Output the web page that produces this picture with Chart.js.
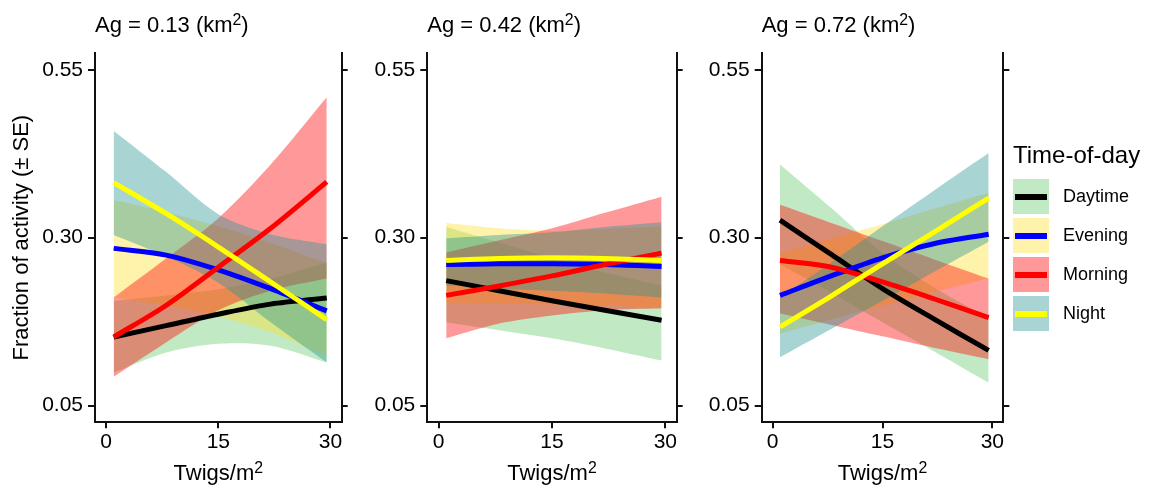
<!DOCTYPE html>
<html>
<head>
<meta charset="utf-8">
<title>Fraction of activity by twig density</title>
<script src="https://cdn.jsdelivr.net/npm/chart.js@4.4.0/dist/chart.umd.min.js"></script>
<style>
  html, body { margin: 0; padding: 0; background: #ffffff; }
  #wrap { position: relative; width: 1158px; height: 491px; overflow: hidden;
          font-family: "Liberation Sans", Arial, Helvetica, sans-serif; color: #000; }
  #wrap canvas { position: absolute; top: 0; }
  .legend-title { position: absolute; left: 1013px; top: 143px; font-size: 24px; line-height: 24px; white-space: nowrap; }
  .legend-key { position: absolute; left: 1013.3px; width: 35.7px; height: 35px; }
  .legend-key span { position: absolute; left: 2px; right: 2px; top: 14.6px; height: 5.8px; }
  .legend-label { position: absolute; left: 1063px; height: 35px; line-height: 35px; font-size: 18px; white-space: nowrap; }
</style>
</head>
<body>
<div id="wrap"></div>
<script>
const FONT = '"Liberation Sans", Arial, Helvetica, sans-serif';

// Twig density at which each fitted curve is evaluated
const twigs = [1, 8, 15, 22, 29.5];
const xTicks = [0, 15, 30];
const yTicks = [0.05, 0.30, 0.55];

const seriesNames = ['Daytime', 'Evening', 'Morning', 'Night'];
const lineColors = ['#000000', '#0000ff', '#ff0000', '#ffff00'];
const bandColors = ['rgba(100,200,105,0.4)', 'rgba(255,222,42,0.4)', 'rgba(255,0,0,0.4)', 'rgba(37,147,147,0.4)'];
const agValues = ['0.13', '0.42', '0.72'];

// Ag = 0.13 km2: fitted fraction and SE band
const daytimeFit13  = [0.152, 0.169, 0.186, 0.201, 0.210];
const daytimeLow13  = [0.099, 0.129, 0.142, 0.139, 0.114];
const daytimeHigh13 = [0.206, 0.214, 0.223, 0.239, 0.263];
const eveningFit13  = [0.284, 0.274, 0.252, 0.224, 0.191];
const eveningLow13  = [0.211, 0.199, 0.183, 0.159, 0.124];
const eveningHigh13 = [0.356, 0.338, 0.317, 0.292, 0.262];
const morningFit13  = [0.152, 0.199, 0.256, 0.314, 0.383];
const morningLow13  = [0.093, 0.144, 0.192, 0.221, 0.239];
const morningHigh13 = [0.211, 0.269, 0.329, 0.409, 0.509];
const nightFit13    = [0.382, 0.336, 0.286, 0.234, 0.178];
const nightLow13    = [0.304, 0.272, 0.233, 0.174, 0.114];
const nightHigh13   = [0.459, 0.398, 0.335, 0.305, 0.290];

// Ag = 0.42 km2
const daytimeFit42  = [0.236, 0.221, 0.206, 0.192, 0.177];
const daytimeLow42  = [0.174, 0.162, 0.150, 0.135, 0.117];
const daytimeHigh42 = [0.316, 0.293, 0.269, 0.248, 0.229];
const eveningFit42  = [0.260, 0.261, 0.261, 0.260, 0.257];
const eveningLow42  = [0.203, 0.202, 0.200, 0.199, 0.195];
const eveningHigh42 = [0.322, 0.314, 0.310, 0.313, 0.317];
const morningFit42  = [0.214, 0.228, 0.243, 0.260, 0.277];
const morningLow42  = [0.150, 0.172, 0.184, 0.192, 0.195];
const morningHigh42 = [0.278, 0.296, 0.314, 0.337, 0.361];
const nightFit42    = [0.266, 0.269, 0.270, 0.269, 0.266];
const nightLow42    = [0.229, 0.224, 0.221, 0.217, 0.211];
const nightHigh42   = [0.299, 0.304, 0.308, 0.316, 0.323];

// Ag = 0.72 km2
const daytimeFit72  = [0.326, 0.275, 0.224, 0.179, 0.132];
const daytimeLow72  = [0.260, 0.218, 0.174, 0.131, 0.084];
const daytimeHigh72 = [0.409, 0.344, 0.277, 0.226, 0.180];
const eveningFit72  = [0.214, 0.243, 0.270, 0.291, 0.305];
const eveningLow72  = [0.157, 0.178, 0.199, 0.219, 0.239];
const eveningHigh72 = [0.276, 0.299, 0.320, 0.343, 0.367];
const morningFit72  = [0.266, 0.256, 0.234, 0.209, 0.181];
const morningLow72  = [0.187, 0.170, 0.153, 0.136, 0.119];
const morningHigh72 = [0.349, 0.322, 0.295, 0.268, 0.239];
const nightFit72    = [0.167, 0.213, 0.261, 0.308, 0.359];
const nightLow72    = [0.122, 0.164, 0.206, 0.249, 0.294];
const nightHigh72   = [0.211, 0.263, 0.317, 0.370, 0.426];

const fits  = [[daytimeFit13, eveningFit13, morningFit13, nightFit13],
               [daytimeFit42, eveningFit42, morningFit42, nightFit42],
               [daytimeFit72, eveningFit72, morningFit72, nightFit72]];
const lows  = [[daytimeLow13, eveningLow13, morningLow13, nightLow13],
               [daytimeLow42, eveningLow42, morningLow42, nightLow42],
               [daytimeLow72, eveningLow72, morningLow72, nightLow72]];
const highs = [[daytimeHigh13, eveningHigh13, morningHigh13, nightHigh13],
               [daytimeHigh42, eveningHigh42, morningHigh42, nightHigh42],
               [daytimeHigh72, eveningHigh72, morningHigh72, nightHigh72]];

// Panel placement on the page (canvas strip and plot area edges)
const panelBoxes = [
  { canvasLeft: 0,   canvasWidth: 360, left: 95,    right: 341.7 },
  { canvasLeft: 360, canvasWidth: 340, left: 427.3, right: 676.7 },
  { canvasLeft: 700, canvasWidth: 325, left: 761.7, right: 1003.3 }
];
const PAGE_H = 491, PLOT_TOP = 53, PLOT_BOTTOM = 422.3;
const AXIS = '#111111';
const CURVE_TENSION = 0.3;

const wrap = document.getElementById('wrap');

function points(ys) { return twigs.map((x, i) => ({ x: x, y: ys[i] })); }

// Draws text made of plain and superscript runs on one baseline
function drawRich(ctx, parts, x, y, size, align) {
  const widths = parts.map(([t, sup]) => {
    ctx.font = (sup ? size * 0.72 : size) + 'px ' + FONT;
    return ctx.measureText(t).width;
  });
  const total = widths.reduce((a, b) => a + b, 0);
  let cx = align === 'center' ? x - total / 2 : x;
  ctx.textAlign = 'left';
  ctx.textBaseline = 'alphabetic';
  ctx.fillStyle = '#000';
  parts.forEach(([t, sup], i) => {
    ctx.font = (sup ? size * 0.72 : size) + 'px ' + FONT;
    ctx.fillText(t, cx, sup ? y - size * 0.3 : y);
    cx += widths[i];
  });
}

function gridOpts(len) {
  return { display: true, drawOnChartArea: false, drawTicks: true, tickLength: len,
           tickWidth: 2, tickColor: AXIS, color: AXIS, lineWidth: 2 };
}

panelBoxes.forEach((box, p) => {
  const canvas = document.createElement('canvas');
  canvas.width = box.canvasWidth;
  canvas.height = PAGE_H;
  canvas.style.left = box.canvasLeft + 'px';
  canvas.style.width = box.canvasWidth + 'px';
  canvas.style.height = PAGE_H + 'px';
  wrap.appendChild(canvas);

  const datasets = [];
  // SE ribbons: an invisible lower edge followed by the upper edge filled down to it
  seriesNames.forEach((name, s) => {
    datasets.push({ label: name + ' low', data: points(lows[p][s]), borderWidth: 0,
      borderColor: 'rgba(0,0,0,0)', pointRadius: 0, fill: false, order: 30 - s,
      tension: CURVE_TENSION });
    datasets.push({ label: name + ' band', data: points(highs[p][s]), borderWidth: 0,
      borderColor: 'rgba(0,0,0,0)', backgroundColor: bandColors[s], pointRadius: 0,
      fill: '-1', order: 20 - s, tension: CURVE_TENSION });
  });
  // Fitted curves on top of every ribbon
  seriesNames.forEach((name, s) => {
    datasets.push({ label: name, data: points(fits[p][s]), borderColor: lineColors[s],
      borderWidth: 5, pointRadius: 0, fill: false, order: 10 - s,
      tension: CURVE_TENSION });
  });

  const leftWidth = box.left - box.canvasLeft;
  const rightWidth = box.canvasLeft + box.canvasWidth - box.right;

  const panelText = {
    id: 'panelText',
    afterDraw(chart) {
      const { ctx, chartArea } = chart;
      ctx.save();
      drawRich(ctx, [['Ag = ' + agValues[p] + ' (km', false], ['2', true], [')', false]],
        chartArea.left, 32, 22, 'left');
      drawRich(ctx, [['Twigs/m', false], ['2', true]],
        (chartArea.left + chartArea.right) / 2, 479.5, 22, 'center');
      ctx.restore();
    }
  };

  new Chart(canvas, {
    type: 'line',
    data: { datasets: datasets },
    plugins: [panelText],
    options: {
      responsive: false,
      animation: false,
      devicePixelRatio: 1,
      events: [],
      layout: { padding: { top: PLOT_TOP, left: 0, right: 0, bottom: 0 } },
      plugins: { legend: { display: false }, tooltip: { enabled: false }, title: { display: false } },
      scales: {
        x: {
          type: 'linear', position: 'bottom', min: -1.5, max: 31.5,
          afterBuildTicks: sc => { sc.ticks = xTicks.map(v => ({ value: v })); },
          afterFit: sc => { sc.height = PAGE_H - PLOT_BOTTOM; },
          ticks: { font: { family: FONT, size: 21 }, color: '#000', padding: 1,
                   maxRotation: 0, autoSkip: false, callback: v => String(v) },
          grid: gridOpts(6),
          border: { display: true, width: 2, color: AXIS }
        },
        y: {
          type: 'linear', position: 'left', min: 0.025, max: 0.575,
          afterBuildTicks: sc => { sc.ticks = yTicks.map(v => ({ value: v })); },
          afterFit: sc => { sc.width = leftWidth; },
          ticks: { font: { family: FONT, size: 21 }, color: '#000', padding: 5,
                   autoSkip: false, callback: v => v.toFixed(2) },
          grid: gridOpts(7),
          border: { display: true, width: 2, color: AXIS },
          title: { display: p === 0, text: 'Fraction of activity (\u00b1 SE)', color: '#000',
                   font: { family: FONT, size: 22 }, padding: { top: 9, bottom: 0 } }
        },
        y2: {
          type: 'linear', position: 'right', min: 0.025, max: 0.575,
          afterBuildTicks: sc => { sc.ticks = yTicks.map(v => ({ value: v })); },
          afterFit: sc => { sc.width = rightWidth; },
          ticks: { display: false },
          grid: gridOpts(6),
          border: { display: true, width: 2, color: AXIS }
        }
      }
    }
  });
});

// Legend: ribbon colour key with the fitted-line colour across it
const legendTitle = document.createElement('div');
legendTitle.className = 'legend-title';
legendTitle.textContent = 'Time-of-day';
wrap.appendChild(legendTitle);
const keyTops = [179.3, 218.3, 257.3, 296.3];
seriesNames.forEach((name, s) => {
  const key = document.createElement('div');
  key.className = 'legend-key';
  key.style.top = keyTops[s] + 'px';
  key.style.background = bandColors[s];
  const bar = document.createElement('span');
  bar.style.background = lineColors[s];
  key.appendChild(bar);
  wrap.appendChild(key);
  const label = document.createElement('div');
  label.className = 'legend-label';
  label.style.top = keyTops[s] + 'px';
  label.textContent = name;
  wrap.appendChild(label);
});
</script>
</body>
</html>
